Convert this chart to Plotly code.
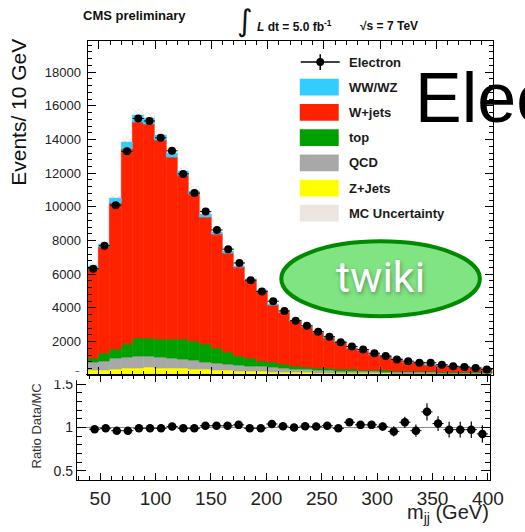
import numpy as np
import plotly.graph_objects as go

W, H = 525, 532

# ---------------- data ----------------
bin_centers = [45, 55, 65, 75, 85, 95, 105, 115, 125, 135, 145, 155, 165, 175, 185, 195,
               205, 215, 225, 235, 245, 255, 265, 275, 285, 295, 305, 315, 325, 335, 345,
               355, 365, 375, 385, 395]
bin_width = 10

electron = [6330, 7690, 10100, 13300, 15250, 15100, 14100, 13330, 11960, 10820, 9720, 8630,
            7490, 6670, 5650, 4980, 4400, 3820, 3240, 2940, 2590, 2290, 1960, 1710, 1530,
            1310, 1140, 940, 840, 745, 745, 630, 530, 490, 430, 350]
electron_err = [80, 88, 100, 115, 123, 123, 119, 115, 109, 104, 99, 93, 87, 82, 75, 71, 66,
                62, 57, 54, 51, 48, 44, 41, 39, 36, 34, 31, 29, 27, 27, 25, 23, 22, 21, 19]

zjets = [290, 300, 350, 390, 430, 470, 430, 400, 390, 360, 330, 300, 280, 260, 240, 220, 200,
         180, 165, 150, 135, 120, 110, 100, 95, 90, 85, 80, 75, 70, 65, 60, 55, 50, 48, 45]
qcd = [455, 540, 650, 690, 710, 670, 610, 580, 530, 520, 450, 425, 350, 330, 310, 280, 260,
       240, 215, 200, 185, 170, 150, 140, 130, 120, 110, 100, 95, 90, 85, 80, 75, 70, 65, 60]
top = [235, 432, 510, 785, 1079, 1079, 1118, 1177, 1196, 1138, 1040, 844, 706, 549, 431, 343,
       285, 207, 169, 140, 111, 102, 95, 90, 85, 80, 75, 70, 65, 60, 55, 50, 48, 45, 42, 40]
wjets = [5330, 6300, 8700, 11570, 12790, 12680, 11800, 10810, 9780, 8750, 7570, 6770, 5900,
         5250, 4650, 4120, 3420, 3080, 2640, 2370, 2100, 1820, 1600, 1260, 1150, 960, 840,
         720, 540, 540, 410, 400, 360, 330, 280, 230]
wwwz = [150, 200, 280, 380, 400, 350, 280, 230, 190, 160, 140, 120, 105, 90, 80, 70, 62, 55,
        48, 42, 38, 34, 30, 27, 24, 21, 19, 17, 15, 13, 12, 11, 10, 9, 8, 7]
mc_unc = [160, 195, 260, 345, 385, 380, 355, 330, 300, 275, 240, 210, 185, 160, 145, 125, 105,
          95, 80, 72, 64, 56, 50, 40, 37, 32, 28, 25, 20, 19, 16, 15, 14, 13, 11, 10]

ratio = [0.98, 0.99, 0.963, 0.963, 0.99, 0.99, 0.99, 1.01, 0.99, 0.99, 1.02, 1.02, 1.02, 1.03,
         0.99, 0.99, 1.04, 1.015, 1.0, 1.015, 1.01, 1.02, 0.99, 1.06, 1.03, 1.03, 1.01, 0.955,
         1.06, 0.963, 1.18, 1.045, 0.975, 0.975, 0.975, 0.926]
ratio_err = [0.012, 0.011, 0.01, 0.009, 0.008, 0.008, 0.009, 0.009, 0.009, 0.01, 0.011, 0.011,
             0.012, 0.013, 0.014, 0.015, 0.016, 0.018, 0.019, 0.02, 0.022, 0.024, 0.027, 0.04,
             0.042, 0.045, 0.048, 0.06, 0.065, 0.07, 0.1, 0.085, 0.09, 0.09, 0.095, 0.1]

components = [  # bottom to top
    ("Z+Jets", zjets, "#ffff00"),
    ("QCD", qcd, "#a8a8a8"),
    ("top", top, "#00a000"),
    ("W+jets", wjets, "#ff2200"),
    ("WW/WZ", wwwz, "#33ccff"),
]
legend_entries = ["WW/WZ", "W+jets", "top", "QCD", "Z+Jets"]
legend_colors = {n: c for n, _, c in components}

FONT = "Liberation Sans, Arial, Helvetica, sans-serif"


def px(x):
    return x / W


def py(y):
    return 1 - y / H


fig = go.Figure()

# ---------------- stacked MC ----------------
base = np.zeros(len(bin_centers))
for name, vals, col in components:
    vals = np.array(vals, dtype=float)
    fig.add_trace(go.Bar(x=bin_centers, y=vals.tolist(), base=base.tolist(), width=bin_width,
                         marker=dict(color=col, line=dict(width=0.6, color=col)),
                         name=name, showlegend=False, xaxis="x", yaxis="y"))
    base = base + vals
total = base
unc = np.array(mc_unc, dtype=float)
fig.add_trace(go.Bar(x=bin_centers, y=(2 * unc).tolist(), base=(total - unc).tolist(),
                     width=bin_width,
                     marker=dict(color="rgba(255,255,255,0)", line=dict(width=0),
                                 pattern=dict(shape="x", fgcolor="#b8b0a8", size=4,
                                              solidity=0.25)),
                     showlegend=False, xaxis="x", yaxis="y"))

# ---------------- data ----------------
fig.add_trace(go.Scatter(x=bin_centers, y=electron, mode="markers",
                         marker=dict(color="black", size=8),
                         error_y=dict(type="data", array=electron_err, color="black",
                                      thickness=1.2, width=0),
                         error_x=dict(type="constant", value=bin_width / 2, color="black",
                                      thickness=1, width=0),
                         showlegend=False, xaxis="x", yaxis="y"))

fig.add_trace(go.Scatter(x=bin_centers, y=ratio, mode="markers",
                         marker=dict(color="black", size=8.5),
                         error_y=dict(type="data", array=ratio_err, color="black",
                                      thickness=1.2, width=0),
                         error_x=dict(type="constant", value=bin_width / 2, color="black",
                                      thickness=1, width=0),
                         showlegend=False, xaxis="x2", yaxis="y2"))

tick_font = dict(family=FONT, size=13, color="#222")

fig.update_layout(
    width=W, height=H, autosize=False,
    margin=dict(l=0, r=0, t=0, b=0),
    paper_bgcolor="white", plot_bgcolor="white",
    barmode="overlay", bargap=0,
    font=dict(family=FONT, color="#111"),
    xaxis=dict(domain=[px(90), px(506)], range=[40, 400], anchor="y",
               showticklabels=False, ticks="inside", ticklen=8, tickwidth=1,
               tickcolor="black", tick0=0, dtick=50,
               minor=dict(ticks="inside", ticklen=4, dtick=10, tick0=0, tickcolor="black"),
               showline=True, linecolor="black", linewidth=1, mirror="ticks",
               showgrid=False, zeroline=False),
    yaxis=dict(domain=[py(381), py(42)], range=[0, 19830], anchor="x",
               tick0=0, dtick=2000, tickformat="d", ticks="inside", ticklen=8,
               tickcolor="black", tickfont=tick_font, ticklabelstandoff=3,
               minor=dict(ticks="inside", ticklen=4, dtick=400, tick0=0, tickcolor="black"),
               showline=True, linecolor="black", linewidth=1, mirror="ticks",
               showgrid=False, zeroline=False),
    xaxis2=dict(domain=[px(79), px(503)], range=[29, 401.5], anchor="y2",
                tick0=0, dtick=50,
                tickfont=dict(family=FONT, size=19, color="#222"),
                ticks="inside", ticklen=7, tickcolor="black", ticklabelstandoff=2,
                minor=dict(ticks="inside", ticklen=4, dtick=10, tick0=0, tickcolor="black"),
                showline=True, linecolor="black", linewidth=1, mirror="ticks",
                showgrid=False, zeroline=False),
    yaxis2=dict(domain=[py(487), py(381)], range=[0.398, 1.602], anchor="x2",
                tick0=0, dtick=0.5,
                tickfont=dict(family=FONT, size=14, color="#222"),
                ticks="inside", ticklen=9, tickcolor="black",
                minor=dict(ticks="inside", ticklen=5, dtick=0.1, tick0=0, tickcolor="black"),
                showline=True, linecolor="black", linewidth=1, mirror="ticks",
                showgrid=False, zeroline=False),
)

shapes = []
annotations = []

# ratio reference line at 1
shapes.append(dict(type="line", xref="x2 domain", yref="y2", x0=0, x1=1, y0=1, y1=1,
                   line=dict(color="#8a8a8a", width=1), layer="below"))

# the ratio pad hides the lower half of the "0" label of the upper pad
shapes.append(dict(type="rect", xref="paper", yref="paper", x0=px(55), x1=px(88.5),
                   y0=py(386), y1=py(377.5), fillcolor="white", line=dict(width=0),
                   layer="above"))

# legend
leg_x0, leg_x1, text_x = 308, 348, 357
row_y = {"Electron": 63}
for i, n in enumerate(legend_entries + ["MC Uncertainty"]):
    row_y[n] = 88.5 + 25.6 * i
shapes.append(dict(type="line", xref="paper", yref="paper", x0=px(309), x1=px(349),
                   y0=py(63), y1=py(63), line=dict(color="black", width=1.5)))
shapes.append(dict(type="line", xref="paper", yref="paper", x0=px(329), x1=px(329),
                   y0=py(55), y1=py(71), line=dict(color="black", width=1.5)))
shapes.append(dict(type="circle", xref="paper", yref="paper", x0=px(325), x1=px(333),
                   y0=py(59), y1=py(67), fillcolor="black", line=dict(width=0)))
for n in legend_entries:
    yc = row_y[n]
    shapes.append(dict(type="rect", xref="paper", yref="paper", x0=px(leg_x0), x1=px(leg_x1),
                       y0=py(yc - 8.5), y1=py(yc + 8.5), fillcolor=legend_colors[n],
                       line=dict(width=0)))
yc = row_y["MC Uncertainty"]
shapes.append(dict(type="rect", xref="paper", yref="paper", x0=px(leg_x0), x1=px(leg_x1),
                   y0=py(yc - 8.5), y1=py(yc + 8.5), fillcolor="#ebe6e1",
                   line=dict(width=0)))
for n in ["Electron"] + legend_entries + ["MC Uncertainty"]:
    annotations.append(dict(text="<b>%s</b>" % n, xref="paper", yref="paper", x=px(text_x),
                            y=py(row_y[n]), xanchor="left", yanchor="middle", showarrow=False,
                            font=dict(family=FONT, size=13, color="#1a1a1a")))

# header texts
annotations.append(dict(text="<b>CMS preliminary</b>", xref="paper", yref="paper",
                        x=px(83), y=py(16), xanchor="left", yanchor="middle", showarrow=False,
                        font=dict(family=FONT, size=13, color="#111")))
annotations.append(dict(text="\u222b", xref="paper", yref="paper", x=px(252), y=py(21),
                        xanchor="center", yanchor="middle", showarrow=False,
                        font=dict(family="DejaVu Sans", size=30, color="#111")))
annotations.append(dict(text="<b><i>L</i> dt = 5.0 fb<sup>-1</sup></b>", xref="paper",
                        yref="paper", x=px(262), y=py(26), xanchor="left", yanchor="middle",
                        showarrow=False, font=dict(family=FONT, size=12, color="#111")))
annotations.append(dict(text="<b>\u221as = 7 TeV</b>", xref="paper", yref="paper",
                        x=px(368), y=py(26), xanchor="left", yanchor="middle",
                        showarrow=False, font=dict(family=FONT, size=12, color="#111")))

# axis titles
annotations.append(dict(text="Events/ 10 GeV", xref="paper", yref="paper", x=px(19),
                        y=py(114), xanchor="center", yanchor="middle", textangle=-90,
                        showarrow=False, font=dict(family=FONT, size=21, color="#111")))
annotations.append(dict(text="Ratio Data/MC", xref="paper", yref="paper", x=px(37),
                        y=py(433), xanchor="center", yanchor="middle", textangle=-90,
                        showarrow=False, font=dict(family=FONT, size=13, color="#333")))
annotations.append(dict(text="m<sub>jj</sub> (GeV)", xref="paper", yref="paper", x=px(503),
                        y=py(535), xanchor="right", yanchor="bottom", showarrow=False,
                        borderpad=0,
                        font=dict(family=FONT, size=20, color="#222")))

# big overlay title (cut at the right edge)
annotations.append(dict(text="Electron", xref="paper", yref="paper", x=px(424), y=py(99),
                        xanchor="left", yanchor="middle", showarrow=False,
                        font=dict(family=FONT, size=70, color="black")))

# twiki button
shapes.append(dict(type="circle", xref="paper", yref="paper", x0=px(289), x1=px(493),
                   y0=py(321), y1=py(245), fillcolor="#80e482",
                   line=dict(color="#008a00", width=4), layer="above"))
annotations.append(dict(text="twiki", xref="paper", yref="paper", x=px(391), y=py(281),
                        xanchor="center", yanchor="middle", showarrow=False,
                        font=dict(family="Roboto, " + FONT, size=43, color="white",
                                  shadow="1px 2px 4px rgba(0,0,0,0.35)")))

fig.update_layout(shapes=shapes, annotations=annotations)
fig.write_html("out.html", config={"displayModeBar": False},
               post_script="document.body.style.margin='0px';"
                           "document.body.style.overflow='hidden';")
